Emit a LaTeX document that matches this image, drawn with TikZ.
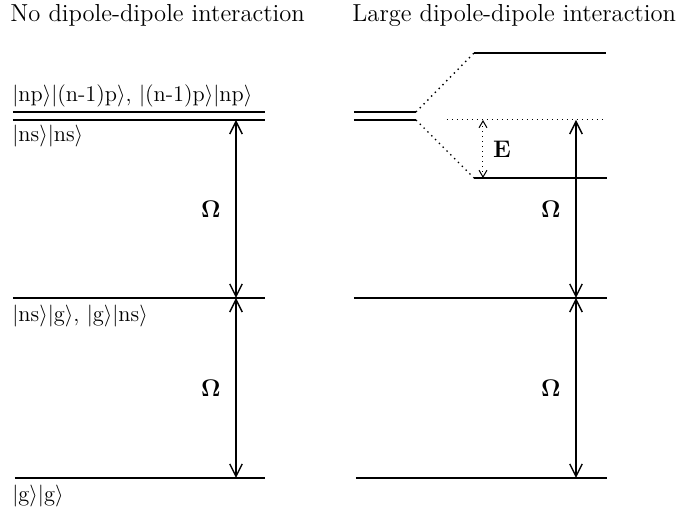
\documentclass[tikz,border=0pt]{standalone}
\usetikzlibrary{arrows.meta,positioning}
\newcommand{\ket}[1]{$|$#1$\rangle$}

\begin{document}
\begin{tikzpicture}[x=0.5pt,y=-0.5pt,
title/.style={font=\fontsize{12.3}{14}\selectfont,inner sep=0pt},
state/.style={font=\fontsize{11.2}{13}\selectfont,inner sep=0pt},
sym/.style={font=\fontsize{12}{14}\selectfont},
level/.style={line width=1pt},
link/.style={dotted,line width=0.7pt},
gap/.style={{Straight Barb[length=2.2mm,width=2.2mm]}-{Straight Barb[length=2.2mm,width=2.2mm]},line width=0.7pt},
split/.style={{Straight Barb[length=1.2mm,width=1.4mm]}-{Straight Barb[length=1.2mm,width=1.4mm]},dotted,line width=0.5pt}]
\useasboundingbox (0,0) rectangle (677,513);
% titles
\node[title,anchor=west](notitle) at (10,15){No dipole-dipole interaction};
\node[title,anchor=west](bigtitle) at (352,15){Large dipole-dipole interaction};
% left: no interaction
\coordinate (pL) at (13,112);\coordinate (pR) at (265,112);
\coordinate (sL) at (13,120);\coordinate (sR) at (265,120);
\coordinate (mL) at (13,298);\coordinate (mR) at (265,298);
\coordinate (gL) at (15,478);\coordinate (gR) at (265,478);
\draw[level](pL)--(pR);\draw[level](sL)--(sR);\draw[level](mL)--(mR);\draw[level](gL)--(gR);
\node[state,anchor=south west](pp) at (12,108){\ket{np}\ket{(n-1)p}, \ket{(n-1)p}\ket{np}};
\node[state,anchor=north west](ss) at (12,125){\ket{ns}\ket{ns}};
\node[state,anchor=north west](sg) at (12,305){\ket{ns}\ket{g}, \ket{g}\ket{ns}};
\node[state,anchor=north west](gg) at (12,485){\ket{g}\ket{g}};
\coordinate (a1) at (236,120);\coordinate (a2) at (236,298);\coordinate (a3) at (236,478);
\draw[gap](a2)--node[sym,left=4pt]{$\mathbf{\Omega}$}(a1);
\draw[gap](a3)--node[sym,left=4pt]{$\mathbf{\Omega}$}(a2);
% right: large interaction
\coordinate (pa) at (354,112);\coordinate (pb) at (416,112);
\coordinate (sa) at (354,120);\coordinate (sb) at (416,120);
\coordinate (upL) at (474,53);\coordinate (upR) at (606,53);
\coordinate (dnL) at (474,178);\coordinate (dnR) at (607,178);
\coordinate (refL) at (447,120);\coordinate (refR) at (606,120);
\coordinate (m2L) at (354,298);\coordinate (m2R) at (607,298);
\coordinate (g2L) at (356,478);\coordinate (g2R) at (607,478);
\draw[level](pa)--(pb);\draw[level](sa)--(sb);
\draw[link](pb)--(upL);\draw[link](sb)--(dnL);
\draw[level](upL)--(upR);\draw[level](dnL)--(dnR);
\draw[dotted,line width=0.5pt](refL)--(refR);
\draw[level](m2L)--(m2R);\draw[level](g2L)--(g2R);
\coordinate (e1) at (483,120);\coordinate (e2) at (483,178);
\draw[split](e2)--node[sym,right=1.5pt]{$\mathbf{E}$}(e1);
\coordinate (b1) at (576,120);\coordinate (b2) at (576,298);\coordinate (b3) at (576,478);
\draw[gap](b2)--node[sym,left=4pt]{$\mathbf{\Omega}$}(b1);
\draw[gap](b3)--node[sym,left=4pt]{$\mathbf{\Omega}$}(b2);
\end{tikzpicture}
\end{document}
